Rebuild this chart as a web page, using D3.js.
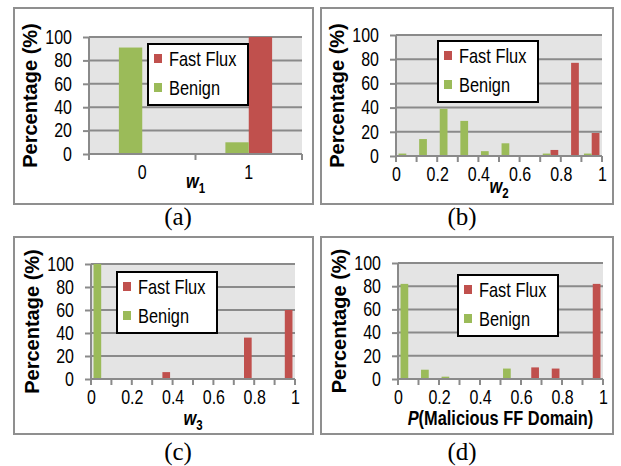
<!DOCTYPE html>
<html>
<head>
<meta charset="utf-8">
<script src="https://cdn.jsdelivr.net/npm/d3@7"></script>
<style>
  body { margin: 0; background: #fff; }
  svg text { fill: #000; }
</style>
</head>
<body>
<div id="chart"></div>
<script>
// series shared by all four panels
const seriesNames = ["Fast Flux", "Benign"];
const seriesColors = { "Fast Flux": "#c0504d", "Benign": "#9bbb59" };
const yTicks = [0, 20, 40, 60, 80, 100];

// (a) w1
const w1Categories = ["0", "1"];
const w1FastFlux = [0, 100];
const w1Benign = [91, 10];

// (b)-(d) histograms, bins of width 0.1
const binStarts = ["0.0", "0.1", "0.2", "0.3", "0.4", "0.5", "0.6", "0.7", "0.8", "0.9"];
const binLabels = [0, 0.2, 0.4, 0.6, 0.8, 1];

const w2FastFlux = [0, 0, 0, 0, 0, 0, 0, 5, 77, 19];
const w2Benign = [2, 14, 39, 29, 4, 10.5, 0, 2, 0, 2];

const w3FastFlux = [0, 0, 0, 6, 0, 0, 0, 36, 0, 60];
const w3Benign = [100, 0, 0, 0, 0, 0, 0, 0, 0, 0];

const pFastFlux = [0, 0, 0, 0, 0, 0, 10, 9, 0, 82];
const pBenign = [82, 8, 2, 0, 0, 9, 0, 0, 0, 0];

const sans = "'Liberation Sans', Arial, sans-serif";
const serif = "'Liberation Serif', 'Times New Roman', serif";
// no narrow font installed, so squeeze the normal one
const squeeze = 0.82;

const width = 621, height = 466;

const svg = d3.select("#chart")
  .append("svg")
  .attr("width", width)
  .attr("height", height);

// move x/y into a transform and squeeze the glyphs horizontally
function narrow(sel) {
  sel.each(function () {
    const el = d3.select(this);
    const x = +el.attr("x") || 0, y = +el.attr("y") || 0;
    el.attr("x", null).attr("y", null)
      .attr("transform", `translate(${x},${y}) scale(${squeeze},1)`);
  });
}

// layout of each panel: box, plot area, legend corner, caption
const panels = [
  {
    caption: "(a)", box: [14, 8, 313, 204], plot: [89, 37, 302, 154],
    cats: w1Categories, values: { "Fast Flux": w1FastFlux, "Benign": w1Benign },
    labels: null, barPad: 1.28, legend: [148, 44],
    xTitle: [["w", true], ["1", false, true]], titleDy: 34, capPos: [178, 225]
  },
  {
    caption: "(b)", box: [321, 8, 613, 204], plot: [396, 35, 602, 156],
    cats: binStarts, values: { "Fast Flux": w2FastFlux, "Benign": w2Benign },
    labels: binLabels, barPad: 0.33, legend: [438, 41],
    xTitle: [["w", true], ["2", false, true]], titleDy: 37, capPos: [462, 225]
  },
  {
    caption: "(c)", box: [14, 237, 313, 434], plot: [91, 264, 295, 379],
    cats: binStarts, values: { "Fast Flux": w3FastFlux, "Benign": w3Benign },
    labels: binLabels, barPad: 0.33, legend: [117, 272],
    xTitle: [["w", true], ["3", false, true]], titleDy: 46, capPos: [178, 460]
  },
  {
    caption: "(d)", box: [321, 237, 613, 434], plot: [398, 263, 603, 379],
    cats: binStarts, values: { "Fast Flux": pFastFlux, "Benign": pBenign },
    labels: binLabels, barPad: 0.33, legend: [458, 275],
    xTitle: [["P", true], ["(Malicious FF Domain)", false]], titleDy: 46, capPos: [462, 460]
  }
];

function drawPanel(p) {
  const [l, t, r, b] = p.plot;
  const g = svg.append("g").attr("class", "panel");

  // panel frame
  g.append("rect")
    .attr("x", p.box[0]).attr("y", p.box[1])
    .attr("width", p.box[2] - p.box[0]).attr("height", p.box[3] - p.box[1])
    .attr("fill", "none").attr("stroke", "#8f8f8f").attr("stroke-width", 2);

  const y = d3.scaleLinear().domain([0, 100]).range([b, t]);
  const x = d3.scaleBand().domain(p.cats).range([l, r]);
  // benign bar on the left, fast flux on the right inside each category
  const sub = d3.scaleBand()
    .domain(["Benign", "Fast Flux"])
    .range([0, x.bandwidth()])
    .paddingOuter(p.barPad);

  // plot area
  g.append("rect")
    .attr("x", l).attr("y", t)
    .attr("width", r - l).attr("height", b - t)
    .attr("fill", "#e4e4e4");

  // gridlines
  g.append("g")
    .selectAll("line")
    .data(yTicks)
    .join("line")
    .attr("x1", l).attr("x2", r)
    .attr("y1", d => y(d)).attr("y2", d => y(d))
    .attr("stroke", "#8a8a8a").attr("stroke-width", 2);

  // bars
  const rows = [];
  seriesNames.forEach(s => {
    p.values[s].forEach((v, i) => {
      if (v > 0) rows.push({ series: s, cat: p.cats[i], value: v });
    });
  });
  g.append("g")
    .selectAll("rect")
    .data(rows)
    .join("rect")
    .attr("x", d => x(d.cat) + sub(d.series))
    .attr("width", sub.bandwidth())
    .attr("y", d => y(d.value))
    .attr("height", d => y(0) - y(d.value))
    .attr("fill", d => seriesColors[d.series]);

  // y axis
  const yAxis = g.append("g")
    .attr("transform", `translate(${l},0)`)
    .call(d3.axisLeft(y).tickValues(yTicks).tickSize(6).tickPadding(11));
  yAxis.select(".domain").attr("stroke", "#8a8a8a").attr("stroke-width", 2)
    .attr("d", `M0,${b}V${t}`);
  yAxis.selectAll(".tick line").attr("stroke", "#8a8a8a").attr("stroke-width", 2);
  yAxis.selectAll(".tick text")
    .style("font-family", sans).style("font-size", "19.5px")
    .call(narrow);

  // x axis: tick marks at category boundaries
  const bounds = p.cats.map(c => x(c)).concat([r]);
  g.append("g")
    .selectAll("line")
    .data(bounds)
    .join("line")
    .attr("x1", d => d).attr("x2", d => d)
    .attr("y1", b).attr("y2", b + 6)
    .attr("stroke", "#8a8a8a").attr("stroke-width", 2);
  g.append("line")
    .attr("x1", l - 1).attr("x2", r)
    .attr("y1", b).attr("y2", b)
    .attr("stroke", "#8a8a8a").attr("stroke-width", 2);

  let labelAxis;
  if (p.labels) {
    const xl = d3.scaleLinear().domain([0, 1]).range([l, r]);
    labelAxis = d3.axisBottom(xl).tickValues(p.labels).tickFormat(d3.format("~g"));
  } else {
    labelAxis = d3.axisBottom(x);
  }
  const xAxis = g.append("g")
    .attr("transform", `translate(0,${b})`)
    .call(labelAxis.tickSize(0).tickPadding(11));
  xAxis.select(".domain").remove();
  xAxis.selectAll(".tick text")
    .style("font-family", sans).style("font-size", "19.5px")
    .call(narrow);

  // x title
  const xt = g.append("text")
    .attr("x", (l + r) / 2).attr("y", b + p.titleDy)
    .attr("text-anchor", "middle")
    .style("font-family", sans).style("font-size", "20px")
    .style("font-weight", "bold");
  p.xTitle.forEach(([txt, italic, subscript]) => {
    const ts = xt.append("tspan").text(txt)
      .style("font-style", italic ? "italic" : "normal");
    if (subscript) ts.attr("dy", 5).style("font-size", "14px");
  });
  xt.call(narrow);

  // y title
  g.append("text")
    .attr("transform", `translate(${l - 59},${(t + b) / 2}) rotate(-90)`)
    .attr("text-anchor", "middle")
    .attr("dy", "0.35em")
    .style("font-family", sans).style("font-size", "20px")
    .style("font-weight", "bold")
    .text("Percentage (%)");

  // legend
  const lg = g.append("g").attr("transform", `translate(${p.legend[0]},${p.legend[1]})`);
  lg.append("rect")
    .attr("width", 100).attr("height", 61)
    .attr("fill", "#fff").attr("stroke", "#000").attr("stroke-width", 2);
  seriesNames.forEach((s, i) => {
    lg.append("rect")
      .attr("x", 6).attr("y", 10 + i * 29)
      .attr("width", 8).attr("height", 9)
      .attr("fill", seriesColors[s]);
    lg.append("text")
      .attr("x", 21).attr("y", 22 + i * 29)
      .style("font-family", sans).style("font-size", "20px")
      .text(s)
      .call(narrow);
  });

  // caption
  g.append("text")
    .attr("x", p.capPos[0]).attr("y", p.capPos[1])
    .attr("text-anchor", "middle")
    .style("font-family", serif).style("font-size", "25px")
    .text(p.caption);
}

panels.forEach(drawPanel);
</script>
</body>
</html>
